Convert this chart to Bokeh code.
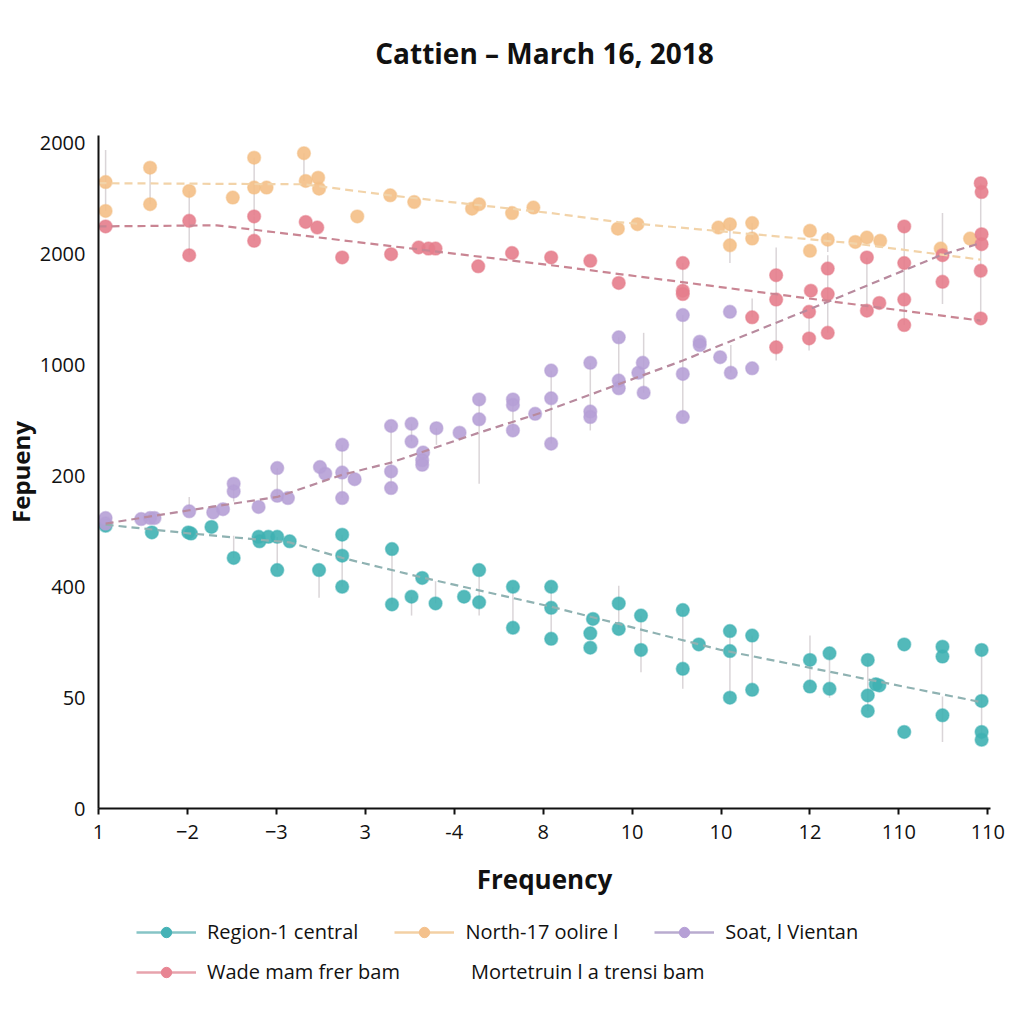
from bokeh.plotting import figure
from bokeh.models import Legend, LegendItem, FixedTicker, Title
from bokeh.layouts import column
from bokeh.embed import file_html
from bokeh.resources import INLINE

# ---------------- data ----------------
title_text = "Cattien \u2013 March 16, 2018"
x_ticks = list(range(11))
x_tick_labels = ["1", "\u22122", "\u22123", "3", "-4", "8", "10", "10", "12", "110", "110"]
y_ticks = list(range(7))
y_tick_labels = ["0", "50", "400", "200", "1000", "2000", "2000"]

series_names = ["Region-1 central", "North-17 oolire l", "Soat, l Vientan",
                "Wade mam frer bam", "Mortetruin l a trensi bam"]

# Region-1 central (teal)
teal_x = [0.08, 0.60, 1.01, 1.04, 1.27, 1.52, 1.80, 1.81, 1.91, 2.01, 2.01, 2.15, 2.48, 2.74, 2.74, 2.74,
          3.30, 3.30, 3.52, 3.64, 3.79, 4.11, 4.28, 4.28, 4.66, 4.66, 5.09, 5.09, 5.09, 5.53, 5.53, 5.56,
          5.85, 5.85, 6.10, 6.10, 6.57, 6.57, 6.75, 7.10, 7.10, 7.10, 7.35, 7.35, 8.00, 8.00, 8.22, 8.22,
          8.65, 8.74, 8.78, 8.65, 8.65, 9.06, 9.06, 9.49, 9.49, 9.49, 9.93, 9.93, 9.93, 9.93]
teal_y = [2.55, 2.49, 2.49, 2.48, 2.54, 2.26, 2.45, 2.41, 2.45, 2.45, 2.15, 2.41, 2.15, 2.47, 2.28, 2.00,
          2.34, 1.84, 1.91, 2.08, 1.85, 1.91, 2.15, 1.86, 2.00, 1.63, 2.00, 1.81, 1.53, 1.58, 1.45, 1.71,
          1.85, 1.62, 1.74, 1.43, 1.79, 1.26, 1.48, 1.60, 1.42, 1.00, 1.56, 1.07, 1.34, 1.10, 1.40, 1.08,
          1.34, 1.12, 1.11, 1.02, 0.88, 1.48, 0.69, 1.46, 1.37, 0.84, 1.43, 0.97, 0.69, 0.62]
teal_trend_x = [0.08, 1.04, 2.15, 2.74, 3.66, 5.09, 7.00, 9.92]
teal_trend_y = [2.56, 2.48, 2.40, 2.26, 2.08, 1.82, 1.43, 0.96]
teal_wx = [1.52, 2.01, 2.48, 2.74, 3.30, 3.52, 3.79, 4.28, 4.66, 5.09, 5.85, 6.10, 6.57, 7.10, 7.35, 8.00,
           8.22, 8.65, 9.49, 9.93]
teal_wlo = [2.26, 2.15, 1.90, 2.00, 1.84, 1.74, 1.85, 1.74, 1.63, 1.53, 1.62, 1.23, 1.08, 1.00, 1.07, 1.10,
            1.00, 0.88, 0.60, 0.62]
teal_whi = [2.46, 2.45, 2.15, 2.47, 2.34, 1.91, 2.05, 2.15, 2.00, 2.00, 2.01, 1.74, 1.79, 1.60, 1.56, 1.56,
            1.40, 1.34, 1.01, 1.43]

# North-17 oolire l (orange)
orange_x = [0.08, 0.08, 0.58, 0.58, 1.02, 1.51, 1.75, 1.75, 1.89, 2.31, 2.33, 2.47, 2.48, 2.91, 3.28, 3.55,
            4.20, 4.28, 4.65, 4.89, 5.84, 6.06, 6.97, 7.10, 7.10, 7.35, 7.35, 8.00, 8.00, 8.20, 8.51, 8.64,
            8.79, 9.47, 9.80]
orange_y = [5.65, 5.39, 5.78, 5.45, 5.57, 5.51, 5.87, 5.60, 5.60, 5.91, 5.66, 5.69, 5.59, 5.34, 5.53, 5.47,
            5.41, 5.45, 5.37, 5.42, 5.23, 5.27, 5.24, 5.27, 5.08, 5.28, 5.14, 5.21, 5.03, 5.13, 5.11, 5.15,
            5.12, 5.05, 5.14]
orange_trend_x = [0.0, 2.31, 3.28, 5.09, 5.84, 8.46, 9.92]
orange_trend_y = [5.64, 5.63, 5.53, 5.37, 5.29, 5.10, 4.95]
orange_wx = [0.08, 0.58, 1.02, 1.75, 2.31, 7.10, 7.35, 8.20]
orange_wlo = [5.39, 5.45, 5.30, 5.35, 5.66, 4.92, 5.14, 5.02]
orange_whi = [5.94, 5.78, 5.57, 5.87, 5.91, 5.27, 5.28, 5.20]

# Soat, l Vientan (purple)
purple_x = [0.08, 0.08, 0.48, 0.58, 0.63, 1.02, 1.29, 1.40, 1.52, 1.52, 1.80, 2.01, 2.01, 2.13, 2.49, 2.55,
            2.74, 2.74, 2.74, 2.88, 3.29, 3.29, 3.29, 3.52, 3.52, 3.65, 3.64, 3.64, 3.80, 4.06, 4.28, 4.28,
            4.66, 4.66, 4.66, 4.91, 5.09, 5.09, 5.09, 5.53, 5.53, 5.53, 5.85, 5.85, 5.85, 6.07, 6.12, 6.13,
            6.57, 6.57, 6.57, 6.76, 6.76, 6.99, 7.10, 7.11, 7.35]
purple_y = [2.62, 2.57, 2.61, 2.62, 2.62, 2.68, 2.67, 2.70, 2.93, 2.86, 2.72, 3.07, 2.82, 2.80, 3.08, 3.02,
            3.28, 3.03, 2.80, 2.97, 3.45, 3.04, 2.89, 3.47, 3.31, 3.21, 3.14, 3.10, 3.43, 3.39, 3.69, 3.51,
            3.69, 3.64, 3.41, 3.56, 3.95, 3.70, 3.29, 4.02, 3.58, 3.53, 4.25, 3.86, 3.79, 3.93, 4.02, 3.75,
            4.45, 3.92, 3.53, 4.21, 4.18, 4.07, 4.48, 3.93, 3.97]
purple_trend_x = [0.08, 1.02, 2.01, 2.74, 3.29, 4.28, 4.98, 6.57, 8.20, 9.47, 9.92]
purple_trend_y = [2.57, 2.69, 2.81, 3.01, 3.12, 3.39, 3.57, 4.04, 4.57, 4.99, 5.10]
purple_wx = [1.02, 1.52, 2.01, 2.74, 3.29, 3.52, 3.80, 4.28, 4.66, 5.09, 5.53, 5.85, 6.13, 6.57, 7.11]
purple_wlo = [2.68, 2.77, 2.82, 2.80, 2.89, 3.31, 3.28, 2.93, 3.41, 3.29, 3.41, 3.79, 3.75, 3.53, 3.93]
purple_whi = [2.81, 2.93, 3.07, 3.28, 3.45, 3.47, 3.43, 3.69, 3.69, 3.95, 4.02, 4.25, 4.29, 4.45, 4.18]

# Wade mam frer bam (pink)
pink_x = [0.08, 1.02, 1.02, 1.75, 1.75, 2.33, 2.46, 2.74, 3.29, 3.60, 3.71, 3.79, 4.27, 4.65, 5.09, 5.53,
          5.85, 6.57, 6.57, 6.57, 7.35, 7.62, 7.62, 7.62, 8.01, 7.99, 7.99, 8.20, 8.20, 8.20, 8.64, 8.64,
          8.78, 9.06, 9.06, 9.06, 9.06, 9.49, 9.49, 9.92, 9.93, 9.93, 9.93, 9.92, 9.92]
pink_y = [5.25, 5.30, 4.99, 5.34, 5.12, 5.29, 5.24, 4.97, 5.00, 5.06, 5.05, 5.05, 4.89, 5.01, 4.97, 4.94,
          4.74, 4.92, 4.67, 4.64, 4.43, 4.81, 4.59, 4.16, 4.67, 4.48, 4.24, 4.87, 4.64, 4.29, 4.97, 4.49,
          4.56, 5.25, 4.92, 4.59, 4.36, 4.99, 4.75, 5.64, 5.56, 5.18, 5.09, 4.85, 4.42]
pink_trend_x = [0.0, 1.33, 5.09, 9.92]
pink_trend_y = [5.25, 5.26, 4.90, 4.40]
pink_wx = [1.02, 1.75, 6.57, 7.35, 7.62, 7.99, 8.20, 8.64, 9.06, 9.49, 9.92]
pink_wlo = [4.99, 5.12, 4.64, 4.43, 4.04, 4.13, 4.29, 4.49, 4.36, 4.55, 4.42]
pink_whi = [5.30, 5.34, 4.92, 4.60, 5.06, 4.48, 4.99, 4.97, 5.25, 5.37, 5.64]

# ---------------- main figure ----------------
FONT = "Open Sans"
p = figure(width=1010, height=900, output_backend="svg", toolbar_location=None,
           x_range=(0, 10.03), y_range=(0, 6.07),
           min_border_left=97, min_border_right=20, min_border_top=135, min_border_bottom=92)

# spacer line (closest to the frame) then the real title above it
p.add_layout(Title(text=" ", text_font_size="10px", standoff=46), "above")
p.add_layout(Title(text=title_text, align="center", text_font=FONT, text_font_size="28px",
                   text_font_style="bold", text_color="#111111", standoff=10), "above")

p.outline_line_color = None
p.grid.visible = False

p.xaxis.ticker = FixedTicker(ticks=x_ticks)
p.xaxis.major_label_overrides = {t: l for t, l in zip(x_ticks, x_tick_labels)}
p.yaxis.ticker = FixedTicker(ticks=y_ticks)
p.yaxis.major_label_overrides = {t: l for t, l in zip(y_ticks, y_tick_labels)}

for ax in (p.xaxis[0], p.yaxis[0]):
    ax.axis_line_color = "#111111"
    ax.axis_line_width = 2
    ax.major_label_text_font = FONT
    ax.major_label_text_font_size = "20px"
    ax.major_label_text_color = "#111111"
    ax.axis_label_text_font = FONT
    ax.axis_label_text_font_style = "bold"
    ax.axis_label_text_color = "#111111"
    ax.minor_tick_line_color = None

p.xaxis.axis_label = "Frequency"
p.xaxis.axis_label_text_font_size = "26px"
p.xaxis.major_tick_out = 6
p.xaxis.major_tick_in = 0
p.xaxis.major_tick_line_width = 2
p.xaxis.major_tick_line_color = "#111111"
p.xaxis.major_label_standoff = 10
p.xaxis.axis_label_standoff = 19

p.yaxis.axis_label = "Fepueny"
p.yaxis.axis_label_text_font_size = "24px"
p.yaxis.major_tick_line_color = None
p.yaxis.major_label_standoff = 7
p.yaxis.axis_label_standoff = 0

WHISK = "#d6d0d4"
cfg = [
    (teal_wx, teal_wlo, teal_whi, teal_trend_x, teal_trend_y, teal_x, teal_y, "#8fb2b2", "#3fb1b3"),
    (orange_wx, orange_wlo, orange_whi, orange_trend_x, orange_trend_y, orange_x, orange_y, "#f2d3a9", "#f4bf86"),
    (purple_wx, purple_wlo, purple_whi, purple_trend_x, purple_trend_y, purple_x, purple_y, "#b88a9e", "#b6a0d6"),
    (pink_wx, pink_wlo, pink_whi, pink_trend_x, pink_trend_y, pink_x, pink_y, "#c98593", "#e67d8c"),
]
for wx, wlo, whi, tx, ty, sx, sy, lc, mc in cfg:
    p.segment(x0=wx, y0=wlo, x1=wx, y1=whi, line_color=WHISK, line_width=1.5, line_alpha=0.9)
for wx, wlo, whi, tx, ty, sx, sy, lc, mc in cfg:
    p.scatter(sx, sy, size=13, fill_color=mc, line_color=mc, line_width=1.5, fill_alpha=0.9, line_alpha=0.5)
for wx, wlo, whi, tx, ty, sx, sy, lc, mc in cfg:
    p.line(tx, ty, line_color=lc, line_width=2.2, line_dash="8 5")

# ---------------- legend strip ----------------
LH = 110
q = figure(width=1010, height=LH, output_backend="svg", toolbar_location=None,
           x_range=(0, 10.03), y_range=(0, 1), min_border=0,
           x_axis_location=None, y_axis_location=None)
q.outline_line_color = None
q.grid.visible = False

leg_line = ["#86c4c6", "#f3d0a4", "#b9abcf", "#e7a3ad"]
leg_mark = ["#45b2b6", "#f4c18c", "#b6a0d6", "#e88593"]
items = []
for i, (wx, wlo, whi, tx, ty, sx, sy, lc, mc) in enumerate(cfg):
    r1 = q.line(tx, ty, line_color=leg_line[i], line_width=2.5, visible=False)
    r2 = q.scatter(sx, sy, size=15, fill_color=leg_mark[i], line_color=leg_mark[i], visible=False)
    items.append(LegendItem(label=series_names[i], renderers=[r1, r2]))
r5 = q.line(teal_trend_x, teal_trend_y, line_alpha=0, visible=False)
items.append(LegendItem(label=series_names[4], renderers=[r5]))

common = dict(orientation="horizontal", glyph_width=60, glyph_height=26, label_standoff=11,
              padding=8, margin=0, border_line_color=None, background_fill_alpha=0,
              label_text_font=FONT, label_text_font_size="20px", label_text_color="#111111")
leg1 = Legend(items=items[0:3], location=(38, 65), spacing=36, **common)
leg2 = Legend(items=[items[3], items[4]], location=(38, 25), spacing=0, **common)
q.add_layout(leg1)
q.add_layout(leg2)

open("out.html", "w").write(file_html(column(p, q), INLINE))
